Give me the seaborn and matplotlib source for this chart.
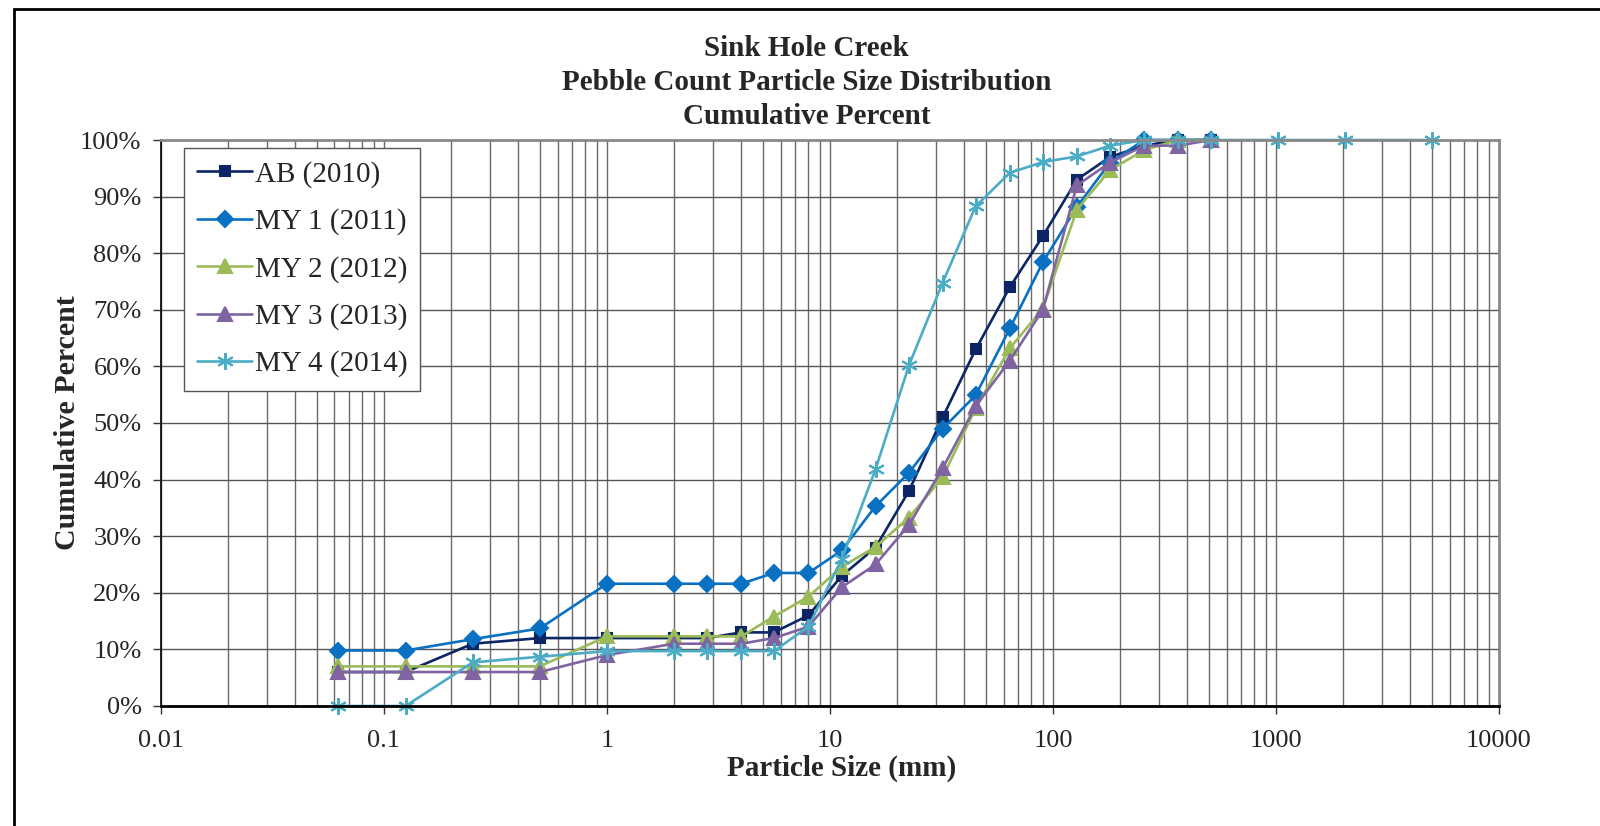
import pandas as pd
import matplotlib
matplotlib.use("Agg")
import matplotlib.pyplot as plt
import seaborn as sns
from matplotlib.ticker import LogLocator, FixedLocator, FuncFormatter, NullFormatter
from matplotlib.patches import Rectangle

# particle sizes (mm) of the sieve classes
sizes = [0.062, 0.125, 0.25, 0.5, 1, 2, 2.8, 4, 5.6, 8, 11.3, 16, 22.6, 32,
         45, 64, 90, 128, 180, 256, 362, 512]
sizes_my4 = sizes + [1024, 2048, 5000]

# cumulative percent finer
ab_2010 = [6, 6, 11, 12, 12, 12, 12, 13, 13, 16, 23, 28, 38, 51, 63, 74, 83, 93, 97, 99, 100, 100]
my1_2011 = [9.8, 9.8, 11.8, 13.7, 21.6, 21.6, 21.6, 21.6, 23.5, 23.5, 27.5, 35.3, 41.2, 49, 54.9,
            66.7, 78.4, 88.2, 96, 100, 100, 100]
my2_2012 = [7, 7, 7, 7, 12.3, 12.3, 12.3, 12.3, 15.8, 19.3, 24.6, 28.1, 33.3, 40.4, 52.6, 63.2,
            70.2, 87.7, 94.7, 98.2, 100, 100]
my3_2013 = [6, 6, 6, 6, 9, 11, 11, 11, 12, 14, 21, 25, 32, 42, 53, 61, 70, 92, 96, 99, 99, 100]
my4_2014 = [0, 0, 7.7, 8.7, 9.7, 9.7, 9.7, 9.7, 9.7, 14, 26, 41.8, 60.2, 74.8, 88.3, 94.2, 96.1,
            97.1, 99, 100, 100, 100, 100, 100, 100]

labels = ["AB (2010)", "MY 1 (2011)", "MY 2 (2012)", "MY 3 (2013)", "MY 4 (2014)"]
colors = ["#0B2565", "#0A71C2", "#9BBB59", "#8064A2", "#4BACC6"]
markers = ["s", "D", "^", "^", (6, 2, 0)]
msizes = [7, 8.5, 10.5, 10.5, 12]

sns.set_style("white")
plt.rcParams["font.family"] = ["Liberation Serif", "DejaVu Serif"]

fig = plt.figure(figsize=(16, 8.26), dpi=100)
ax = fig.add_axes([0.1006, 0.1453, 0.8363, 0.6852])

series = [(sizes, ab_2010), (sizes, my1_2011), (sizes, my2_2012), (sizes, my3_2013), (sizes_my4, my4_2014)]
for (xs, ys), lab, col, mk, ms in zip(series, labels, colors, markers, msizes):
    df = pd.DataFrame({"size": xs, "pct": ys})
    sns.lineplot(data=df, x="size", y="pct", ax=ax, color=col, marker=mk, markersize=ms,
                 markeredgecolor=col, markeredgewidth=1.5, linewidth=1.9, label=lab,
                 sort=False, clip_on=False)

ax.set_xscale("log")
ax.set_xlim(0.01, 10000)
ax.set_ylim(0, 100)
ax.xaxis.set_major_locator(FixedLocator([0.01, 0.1, 1, 10, 100, 1000, 10000]))
ax.xaxis.set_major_formatter(FuncFormatter(lambda v, p: f"{v:g}"))
ax.xaxis.set_minor_locator(LogLocator(base=10, subs=range(2, 10), numticks=50))
ax.xaxis.set_minor_formatter(NullFormatter())
ax.yaxis.set_major_locator(FixedLocator(range(0, 101, 10)))
ax.yaxis.set_major_formatter(FuncFormatter(lambda v, p: f"{v:.0f}%"))

ax.grid(True, which="both", axis="x", color="#6a6a6a", linewidth=1.0)
ax.grid(True, which="major", axis="y", color="#555555", linewidth=1.0)
ax.set_axisbelow(True)

ax.tick_params(axis="both", which="major", direction="out", length=6, width=1,
               labelsize=19, color="#333333", left=True, bottom=True)
ax.tick_params(axis="x", which="major", pad=11)
ax.tick_params(axis="y", which="major", pad=8)
ax.tick_params(axis="both", which="minor", length=0)

for side in ["top", "right"]:
    ax.spines[side].set_color("#8a8a8a")
    ax.spines[side].set_linewidth(2)
ax.spines["left"].set_color("black")
ax.spines["left"].set_linewidth(1.2)
ax.spines["bottom"].set_color("black")
ax.spines["bottom"].set_linewidth(2)

ax.set_xlabel("Particle Size (mm)", fontsize=21, fontweight="bold", va="center")
ax.set_ylabel("Cumulative Percent", fontsize=21.5, fontweight="bold", va="center")
ax.xaxis.set_label_coords(0.509, -0.111)
ax.yaxis.set_label_coords(-0.07, 0.5)

leg = ax.legend(loc="upper left", bbox_to_anchor=(0.017, 0.986), fontsize=21,
                frameon=True, fancybox=False, framealpha=1, edgecolor="#555555",
                handlelength=1.9, handletextpad=0.08, labelspacing=0.7,
                borderpad=0.45, borderaxespad=0)
leg.get_frame().set_linewidth(1.0)

fig.text(0.504, 0.9, "Sink Hole Creek\nPebble Count Particle Size Distribution\nCumulative Percent",
         ha="center", va="center", fontsize=21, fontweight="bold", linespacing=1.33)

# chart area border (right and bottom edges fall outside the image)
fig.patches.append(Rectangle((0.00875, -0.05), 1.1, 1.039, transform=fig.transFigure,
                             fill=False, edgecolor="black", linewidth=2))

fig.savefig("out.png", dpi=100)
